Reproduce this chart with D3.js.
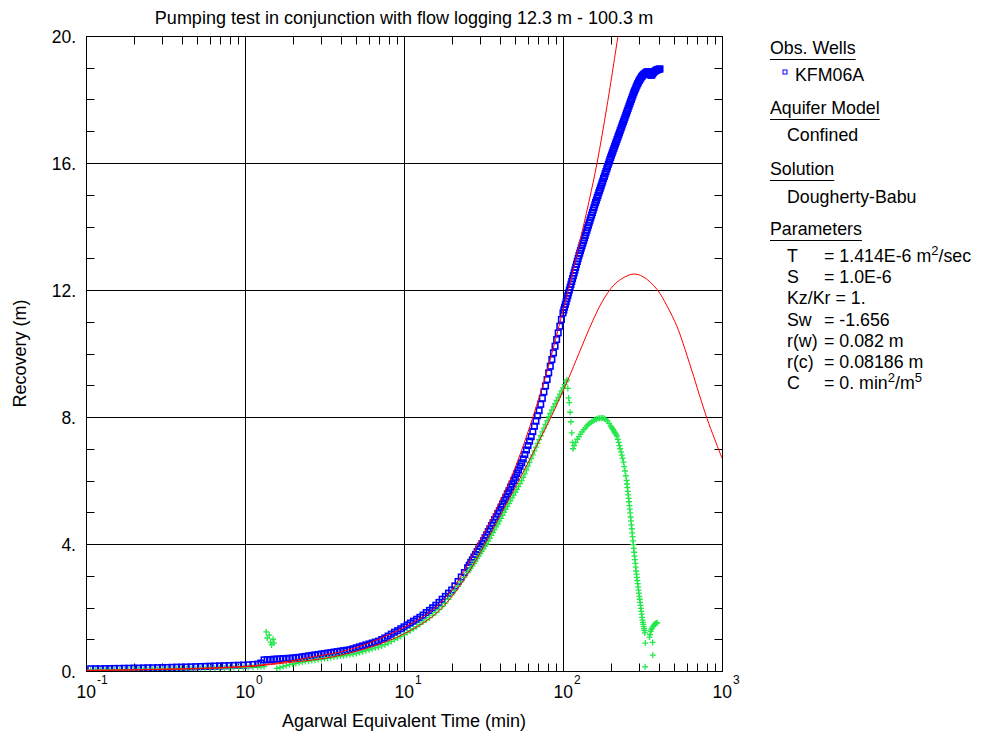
<!DOCTYPE html>
<html>
<head>
<meta charset="utf-8">
<script src="https://cdn.jsdelivr.net/npm/d3@7"></script>
<style>
  body { margin: 0; background: #fff; }
  text { font-family: "Liberation Sans", Arial, sans-serif; fill: #000; }
</style>
</head>
<body>
<div id="chart"></div>
<script>
// observed recovery, KFM06A  [time (min), recovery (m)]
const recoveryData = [
  [0.107,0.07],[0.115,0.07],[0.123,0.07],[0.132,0.075],[0.141,0.075],[0.151,0.08],[0.162,0.08],[0.174,0.085],
  [0.186,0.085],[0.2,0.09],[0.214,0.09],[0.229,0.095],[0.245,0.1],[0.263,0.1],[0.282,0.105],[0.302,0.11],
  [0.324,0.11],[0.347,0.115],[0.372,0.12],[0.398,0.12],[0.427,0.125],[0.457,0.13],[0.49,0.135],[0.525,0.14],
  [0.562,0.145],[0.603,0.15],[0.646,0.155],[0.692,0.16],[0.741,0.165],[0.794,0.17],[0.851,0.175],[0.912,0.18],
  [0.977,0.185],[1.047,0.195],[1.122,0.205],[1.202,0.215],[1.259,0.25],
  [1.318,0.35],[1.38,0.355],[1.445,0.36],[1.514,0.37],[1.585,0.375],[1.66,0.38],[1.738,0.39],[1.82,0.395],
  [1.905,0.4],[1.995,0.41],[2.089,0.42],[2.188,0.43],[2.291,0.445],[2.399,0.46],[2.512,0.475],[2.63,0.49],
  [2.754,0.505],[2.884,0.52],[3.02,0.535],[3.162,0.55],[3.311,0.565],[3.467,0.58],[3.631,0.595],[3.802,0.61],
  [3.981,0.625],[4.169,0.64],[4.365,0.655],[4.571,0.67],[4.786,0.7],[5.012,0.73],[5.248,0.76],[5.495,0.79],
  [5.754,0.82],[6.026,0.85],[6.31,0.88],[6.607,0.91],[6.918,0.94],[7.244,0.99],[7.586,1.04],[7.943,1.1],
  [8.318,1.16],[8.71,1.22],[9.12,1.27],[9.55,1.33],[10,1.39],
  [10.47,1.45],[10.96,1.51],[11.48,1.57],[12.02,1.63],[12.59,1.69],[13.18,1.76],[13.8,1.84],[14.45,1.91],
  [15.14,1.99],[15.85,2.07],[16.6,2.16],[17.38,2.26],[18.2,2.35],[19.05,2.45],[19.95,2.55],[20.89,2.68],
  [21.88,2.82],[22.91,2.96],[23.99,3.1],[25.12,3.25],
  [25.7,3.33],[26.3,3.42],[26.92,3.5],[27.54,3.59],[28.18,3.67],[28.84,3.76],[29.51,3.84],[30.2,3.93],
  [30.9,4.01],[31.62,4.1],[32.36,4.2],[33.11,4.29],[33.88,4.39],[34.67,4.48],[35.48,4.58],[36.31,4.67],
  [37.15,4.77],[38.02,4.86],[38.9,4.96],[39.81,5.05],[40.74,5.16],[41.69,5.26],[42.66,5.37],[43.65,5.47],
  [44.67,5.58],[45.71,5.68],[46.77,5.79],[47.86,5.89],[48.98,6.0],[50.12,6.1],[51.29,6.22],[52.48,6.33],
  [53.7,6.45],[54.95,6.56],[56.23,6.68],[57.54,6.82],[58.88,6.96],[60.26,7.1],[61.66,7.24],[63.1,7.38],
  [64.57,7.54],[66.07,7.71],[67.61,7.87],[69.18,8.04],[70.79,8.2],[72.44,8.4],[74.13,8.59],[75.86,8.79],
  [77.62,8.98],[79.43,9.18],[81.28,9.39],[83.18,9.6],[85.11,9.81],[87.1,10.02],[89.13,10.23],[91.2,10.44],
  [93.33,10.65],[95.5,10.86],[97.72,11.07],[100,11.28],
  [101.2,11.37],[102.3,11.46],[103.5,11.55],[104.7,11.64],[105.9,11.73],[107.2,11.82],[108.4,11.91],[109.6,12.0],
  [110.9,12.09],[112.2,12.18],[113.5,12.27],[114.8,12.36],[116.1,12.45],[117.5,12.54],[118.9,12.63],[120.2,12.72],
  [121.6,12.81],[123,12.9],[124.5,12.99],[125.9,13.08],[127.4,13.16],[128.8,13.24],[130.3,13.32],[131.8,13.4],
  [133.4,13.48],[134.9,13.56],[136.5,13.64],[138,13.72],[139.6,13.8],[141.3,13.88],[142.9,13.96],[144.5,14.04],
  [146.2,14.12],[147.9,14.2],[149.6,14.28],[151.4,14.36],[153.1,14.44],[154.9,14.52],[156.7,14.6],[158.5,14.68],
  [160.3,14.76],[162.2,14.83],[164.1,14.91],[166,14.98],[167.9,15.06],[169.8,15.13],[171.8,15.21],[173.8,15.28],
  [175.8,15.36],[177.8,15.43],[179.9,15.51],[182,15.58],[184.1,15.66],[186.2,15.73],[188.4,15.81],[190.5,15.88],
  [192.8,15.96],[195,16.03],[197.2,16.11],[199.5,16.18],[201.8,16.25],[204.2,16.32],[206.5,16.39],[208.9,16.46],
  [211.3,16.53],[213.8,16.6],[216.3,16.67],[218.8,16.74],[221.3,16.81],[223.9,16.88],[226.5,16.95],[229.1,17.02],
  [231.7,17.09],[234.4,17.16],[237.1,17.23],[239.9,17.3],[242.7,17.37],[245.5,17.44],[248.3,17.51],[251.2,17.58],
  [254.1,17.65],[257,17.72],[260,17.79],[263,17.86],[266.1,17.93],[269.2,18.0],[272.3,18.07],[275.4,18.14],
  [278.6,18.21],[281.8,18.27],[285.1,18.33],[288.4,18.39],[291.7,18.45],[295.1,18.5],[298.5,18.55],[302,18.6],
  [305.5,18.64],[309,18.68],[312.6,18.72],[316.2,18.75],[319.9,18.78],[323.6,18.8],[327.3,18.82],[331.1,18.84],
  [334.9,18.86],[338.8,18.87],[342.7,18.87],[346.7,18.86],[350.8,18.82],[354.8,18.78],[358.9,18.76],[363.1,18.78],
  [367.3,18.82],[371.5,18.86],[375.8,18.88],[380.2,18.9],[384.6,18.92],[389,18.93],[393.6,18.94],[398.1,18.95],
  [402.7,18.96],[407.4,18.96]
]

// recovery derivative  [time (min), derivative (m)]
const derivativeData = [
  [0.107,0.03],[0.115,0.03],[0.123,0.035],[0.132,0.035],[0.141,0.035],[0.151,0.04],[0.162,0.04],[0.174,0.04],
  [0.186,0.045],[0.2,0.045],[0.214,0.05],[0.229,0.05],[0.245,0.05],[0.263,0.055],[0.282,0.055],[0.302,0.06],
  [0.324,0.06],[0.347,0.065],[0.372,0.065],[0.398,0.07],[0.427,0.07],[0.457,0.075],[0.49,0.075],[0.525,0.08],
  [0.562,0.08],[0.603,0.085],[0.646,0.09],[0.692,0.09],[0.741,0.095],[0.794,0.1],[0.851,0.1],[0.912,0.105],
  [0.977,0.11],[1.047,0.115],[1.122,0.12],[1.202,0.125],[1.259,0.13],[1.318,0.14],
  [1.36,1.23],[1.38,1.04],[1.42,1.13],[1.45,0.91],[1.47,0.82],[1.5,1.0],[1.52,0.88],
  [1.585,0.08],[1.66,0.11],[1.738,0.14],[1.82,0.17],[1.905,0.2],[1.995,0.22],[2.089,0.24],[2.188,0.26],
  [2.291,0.28],[2.399,0.3],[2.512,0.31],[2.63,0.33],[2.754,0.34],[2.884,0.36],[3.02,0.37],[3.162,0.39],
  [3.311,0.4],[3.467,0.42],[3.631,0.44],[3.802,0.45],[3.981,0.47],[4.169,0.48],[4.365,0.5],[4.571,0.51],
  [4.786,0.53],[5.012,0.55],[5.248,0.58],[5.495,0.61],[5.754,0.64],[6.026,0.67],[6.31,0.7],[6.607,0.73],
  [6.918,0.75],[7.244,0.79],[7.586,0.83],[7.943,0.88],[8.318,0.93],[8.71,0.99],[9.12,1.04],[9.55,1.09],[10,1.15],
  [10.47,1.21],[10.96,1.27],[11.48,1.33],[12.02,1.4],[12.59,1.47],[13.18,1.54],[13.8,1.61],[14.45,1.68],
  [15.14,1.76],[15.85,1.84],[16.6,1.93],[17.38,2.03],[18.2,2.13],[19.05,2.26],[19.95,2.4],[20.89,2.53],
  [21.88,2.67],[22.91,2.81],[23.99,2.95],[25.12,3.1],
  [25.7,3.17],[26.3,3.24],[26.92,3.31],[27.54,3.39],[28.18,3.46],[28.84,3.54],[29.51,3.62],[30.2,3.7],
  [30.9,3.77],[31.62,3.85],[32.36,3.93],[33.11,4.0],[33.88,4.09],[34.67,4.18],[35.48,4.27],[36.31,4.36],
  [37.15,4.45],[38.02,4.54],[38.9,4.63],[39.81,4.72],[40.74,4.81],[41.69,4.9],[42.66,5.0],[43.65,5.09],
  [44.67,5.18],[45.71,5.27],[46.77,5.36],[47.86,5.45],[48.98,5.54],[50.12,5.63],[51.29,5.72],[52.48,5.81],
  [53.7,5.9],[54.95,6.0],[56.23,6.1],[57.54,6.21],[58.88,6.33],[60.26,6.45],[61.66,6.57],[63.1,6.69],
  [64.57,6.81],[66.07,6.93],[67.61,7.05],[69.18,7.17],[70.79,7.29],[72.44,7.41],[74.13,7.53],[75.86,7.65],
  [77.62,7.77],[79.43,7.88],[81.28,8.0],[83.18,8.11],[85.11,8.22],[87.1,8.32],[89.13,8.42],[91.2,8.52],
  [93.33,8.62],[95.5,8.72],[97.72,8.82],[100,8.92],[102.3,9.02],[104.7,9.12],[105.9,9.17],
  [107.2,8.9],[108.4,8.6],[109.6,8.45],[110.9,8.15],[112.2,7.85],[113.5,7.5],[114.8,7.2],[115.6,7.0],
  [117.5,7.1],[120.2,7.2],[123,7.3],[125.9,7.38],[128.8,7.46],[131.8,7.53],[134.9,7.6],[138,7.66],
  [141.3,7.72],[144.5,7.77],[147.9,7.81],[151.4,7.85],[154.9,7.88],[158.5,7.91],[162.2,7.93],[166,7.95],
  [169.8,7.96],[173.8,7.97],[177.8,7.97],[182,7.95],[186.2,7.92],[190.5,7.87],[195,7.8],[199.5,7.72],
  [201.8,7.68],[204.2,7.64],[206.5,7.6],[208.9,7.56],[211.3,7.52],[213.8,7.48],[216.3,7.44],[218.8,7.4],
  [221.3,7.3],[223.9,7.2],[226.5,7.1],[229.1,7.0],[231.7,6.9],[234.4,6.8],[237.1,6.7],[239.9,6.58],
  [242.7,6.44],[245.5,6.3],[248.3,6.15],
  [251.2,6.0],[252.6,5.89],[254.1,5.78],[255.5,5.66],[257,5.55],[258.5,5.44],[260,5.33],[261.5,5.21],
  [263,5.1],[264.5,4.98],[266.1,4.85],[267.6,4.73],[269.2,4.6],[270.8,4.48],[272.3,4.35],[273.9,4.23],
  [275.4,4.1],[277,3.98],[278.6,3.86],[280.2,3.74],[281.8,3.62],[283.4,3.51],[285.1,3.39],[286.7,3.27],
  [288.4,3.15],[290.1,3.05],[291.7,2.95],[293.4,2.85],[295.1,2.75],[296.8,2.65],[298.5,2.55],[300.2,2.45],
  [302,2.35],[303.7,2.26],[305.5,2.16],[307.3,2.07],[309,1.97],[310.8,1.88],[312.6,1.79],[314.4,1.69],
  [316.2,1.6],[318.1,1.53],[319.9,1.47],[321.7,1.4],[323.6,1.33],[325.5,1.27],[327.3,1.2],[328.5,0.13],
  [329.2,0.88],
  [350,1.07],[353,1.15],[356,1.25],[359,1.3],[362,1.35],[366,0.9],[367,0.5],[369,1.4],[373,1.44],
  [377,1.47],[381,1.49],[386,1.51],[391,1.52]
]

// Dougherty-Babu solution curve and its derivative  [time (min), m]
const solutionCurve = [
  [0.1,0.02],[0.158,0.03],[0.251,0.05],[0.398,0.07],[0.631,0.1],[1,0.15],[1.26,0.19],[1.58,0.25],
  [2.0,0.33],[2.51,0.42],[3.16,0.51],[3.98,0.6],[5.01,0.74],[6.31,0.92],[7.94,1.13],[10,1.37],
  [12.6,1.65],[15.8,2.0],[20,2.55],[25.1,3.35],[28.8,3.95],[31.6,4.3],[39.8,5.3],[46.4,6.0],
  [54.9,6.95],[64.7,8.0],[79.4,9.45],[100,11.35],[110.7,12.2],[125.9,13.4],[145.9,14.8],[163.7,16.0],
  [189.2,17.8],[221.8,20.0],[229.1,20.45]
]
const derivativeCurve = [
  [0.1,0.02],[0.316,0.05],[1,0.13],[2.0,0.28],[3.16,0.4],[5.01,0.62],[7.94,0.95],[10,1.17],
  [12.6,1.45],[15.8,1.8],[20,2.35],[25.1,3.05],[32.3,4.0],[39.8,4.85],[52.8,6.0],[66.8,7.0],
  [84.1,8.0],[107.4,9.17],[125.9,10.0],[154.5,11.05],[183.7,11.78],[218.8,12.25],[275.4,12.5],[318.4,12.42],
  [390,12.02],[450.8,11.5],[521.2,10.85],[568.9,10.32],[647.1,9.45],[805.4,7.95],[970.5,6.87],[1000,6.7]
]

const titleText = "Pumping test in conjunction with flow logging 12.3 m - 100.3 m"
const xTitle = "Agarwal Equivalent Time (min)"
const yTitle = "Recovery (m)"
const xTickExponents = [-1, 0, 1, 2, 3]
const yTickValues = [0, 4, 8, 12, 16, 20]
const yTickLabels = ["0.", "4.", "8.", "12.", "16.", "20."]
const wellName = "KFM06A"
// each part: [text, superscript?]
const parameterRows = [
  ["T", [["= 1.414E-6 m"], ["2", true], ["/sec"]]],
  ["S", [["= 1.0E-6"]]],
  ["Kz/Kr", [["= 1."]]],
  ["Sw", [["= -1.656"]]],
  ["r(w)", [["= 0.082 m"]]],
  ["r(c)", [["= 0.08186 m"]]],
  ["C", [["= 0. min"], ["2", true], ["/m"], ["5", true]]]
]

const plotLeft = 86, plotRight = 722, plotTop = 36, plotBottom = 671

let svg = d3.select("#chart").append("svg")
    .attr("width", 990)
    .attr("height", 738)

let x = d3.scaleLog().domain([0.1, 1000]).range([plotLeft, plotRight])
let y = d3.scaleLinear().domain([0, 20]).range([plotBottom, plotTop])

svg.append("clipPath").attr("id", "plot-clip")
  .append("rect")
    .attr("x", plotLeft).attr("y", plotTop)
    .attr("width", plotRight - plotLeft).attr("height", plotBottom - plotTop)

// grid and ticks
let axes = svg.append("g").attr("transform", "translate(0.5,0.5)")
    .attr("stroke", "#000").attr("stroke-width", 1)

let majorTimes = xTickExponents.map(e => Math.pow(10, e))
let minorTimes = x.ticks().filter(t => !majorTimes.some(m => Math.abs(m - t) < 1e-9))
let minorValues = y.ticks(20).filter(v => v % 4 !== 0)

axes.append("g").selectAll("line").data(majorTimes.slice(1, -1)).join("line")
    .attr("x1", d => Math.round(x(d))).attr("x2", d => Math.round(x(d)))
    .attr("y1", plotTop).attr("y2", plotBottom)
axes.append("g").selectAll("line").data(yTickValues.slice(1, -1)).join("line")
    .attr("x1", plotLeft).attr("x2", plotRight)
    .attr("y1", d => Math.round(y(d))).attr("y2", d => Math.round(y(d)))

for (let edge of [plotBottom, plotTop]) {
  let dir = edge === plotBottom ? -1 : 1
  axes.append("g").selectAll("line").data(minorTimes).join("line")
      .attr("x1", d => Math.round(x(d))).attr("x2", d => Math.round(x(d)))
      .attr("y1", edge).attr("y2", edge + dir * 8)
}
for (let edge of [plotLeft, plotRight]) {
  let dir = edge === plotLeft ? 1 : -1
  axes.append("g").selectAll("line").data(minorValues).join("line")
      .attr("x1", edge).attr("x2", edge + dir * 8)
      .attr("y1", d => Math.round(y(d))).attr("y2", d => Math.round(y(d)))
}

axes.append("rect")
    .attr("x", plotLeft).attr("y", plotTop)
    .attr("width", plotRight - plotLeft).attr("height", plotBottom - plotTop)
    .attr("fill", "none")

// data
let data = svg.append("g").attr("clip-path", "url(#plot-clip)")

data.append("g").selectAll("rect").data(recoveryData).join("rect")
    .attr("x", d => x(d[0]) - 2.75)
    .attr("y", d => y(d[1]) - 2.75)
    .attr("width", 5.5).attr("height", 5.5)
    .attr("fill", "none")
    .attr("stroke", "#0000ff")
    .attr("stroke-width", 1.6)

data.append("g").selectAll("path").data(derivativeData).join("path")
    .attr("d", "M-3,0H3M0,-3V3")
    .attr("transform", d => "translate(" + x(d[0]) + "," + y(d[1]) + ")")
    .attr("stroke", "#22e84a")
    .attr("stroke-width", 1.3)
    .attr("fill", "none")

let line = d3.line().x(d => x(d[0])).y(d => y(d[1])).curve(d3.curveCatmullRom.alpha(0.5))

for (let curve of [solutionCurve, derivativeCurve]) {
  data.append("path")
      .datum(curve)
      .attr("d", line)
      .attr("fill", "none")
      .attr("stroke", "#ff0000")
      .attr("stroke-width", 1)
}

// labels
svg.append("text")
    .attr("x", (plotLeft + plotRight) / 2).attr("y", 24)
    .attr("text-anchor", "middle")
    .style("font-size", "18px")
    .text(titleText)

svg.append("g").selectAll("text").data(yTickValues).join("text")
    .attr("x", 76)
    .attr("y", d => y(d) + 7)
    .attr("text-anchor", "end")
    .style("font-size", "17.5px")
    .text((d, i) => yTickLabels[i])

let xlab = svg.append("g").selectAll("text").data(xTickExponents).join("text")
    .attr("x", d => x(Math.pow(10, d)) - 9.5)
    .attr("y", 698)
    .style("font-size", "17.5px")
xlab.append("tspan").text("10")
xlab.append("tspan").attr("dy", -14).attr("dx", 1).style("font-size", "12px").text(d => d)

svg.append("text")
    .attr("x", (plotLeft + plotRight) / 2).attr("y", 727)
    .attr("text-anchor", "middle")
    .style("font-size", "18px")
    .text(xTitle)

svg.append("text")
    .attr("transform", "translate(26," + ((plotTop + plotBottom) / 2) + ") rotate(-90)")
    .attr("text-anchor", "middle")
    .style("font-size", "18px")
    .text(yTitle)

// legend
let legend = svg.append("g").style("font-size", "17.8px")

function heading(text, yy) {
  let t = legend.append("text").attr("x", 770).attr("y", yy).text(text)
  let w = t.node().getComputedTextLength()
  legend.append("line")
      .attr("x1", 770).attr("x2", 770 + w)
      .attr("y1", yy + 5.5).attr("y2", yy + 5.5)
      .attr("stroke", "#000").attr("stroke-width", 1)
}

heading("Obs. Wells", 54)
legend.append("rect")
    .attr("x", 783).attr("y", 70).attr("width", 4).attr("height", 4)
    .attr("fill", "none").attr("stroke", "#0000ff").attr("stroke-width", 1)
legend.append("text").attr("x", 795).attr("y", 81).text(wellName)

heading("Aquifer Model", 114)
legend.append("text").attr("x", 787).attr("y", 141).text("Confined")

heading("Solution", 175)
legend.append("text").attr("x", 787).attr("y", 203).text("Dougherty-Babu")

heading("Parameters", 235)
parameterRows.forEach((row, i) => {
  let yy = 262 + i * 21.2
  if (row[0] === "Kz/Kr") {
    legend.append("text").attr("x", 787).attr("y", yy).text(row[0] + " " + row[1][0][0])
    return
  }
  legend.append("text").attr("x", 787).attr("y", yy).text(row[0])
  let t = legend.append("text").attr("x", 824).attr("y", yy)
  let raised = false
  row[1].forEach(part => {
    let span = t.append("tspan").text(part[0])
    if (part[1] && !raised) { span.attr("dy", -7).style("font-size", "13px"); raised = true }
    else if (!part[1] && raised) { span.attr("dy", 7); raised = false }
  })
})
</script>
</body>
</html>
